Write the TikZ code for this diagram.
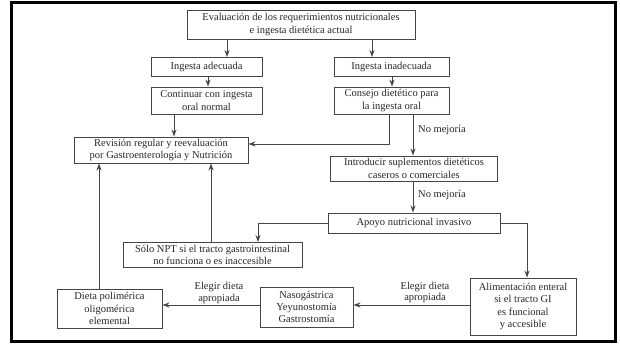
\documentclass[tikz,border=0pt]{standalone}
\usepackage{fontspec}
\setmainfont{Liberation Serif}
\usetikzlibrary{arrows.meta}
\definecolor{ink}{HTML}{262626}
\definecolor{edge}{HTML}{454545}
\begin{document}
\begin{tikzpicture}[x=1pt,y=-1pt,
  box/.style={draw=edge,line width=0.9pt,inner sep=0pt,align=center,
    text=ink,font=\fontsize{10.5}{12.3}\selectfont},
  arr/.style={draw=edge,line width=0.9pt,-{Stealth[length=7pt,width=5pt]}},
  lbl/.style={text=ink,font=\fontsize{10.5}{11.8}\selectfont,align=center,inner sep=0pt}]
\useasboundingbox (0,0) rectangle (620,345);
% outer frame
\draw[line width=3.5pt,black] (11.5,2.5) rectangle (615.5,341.5);

% boxes
\node[box,minimum width=228pt,minimum height=29pt] (eval) at (301,24.5)
  {Evaluación de los requerimientos nutricionales\\e ingesta dietética actual};
\node[box,minimum width=111pt,minimum height=19pt] (ia) at (206.5,67)
  {Ingesta adecuada};
\node[box,minimum width=115pt,minimum height=19pt] (ii) at (391.5,67)
  {Ingesta inadecuada};
\node[box,minimum width=111pt,minimum height=27pt] (co) at (206.5,100.5)
  {Continuar con ingesta\\oral normal};
\node[box,minimum width=115pt,minimum height=27pt] (cd) at (391.5,100.5)
  {Consejo dietético para\\la ingesta oral};
\node[box,minimum width=174pt,minimum height=26pt] (re) at (161,150)
  {Revisión regular y reevaluación\\por Gastroenterología y Nutrición};
\node[box,minimum width=167pt,minimum height=25pt] (in) at (414,168.5)
  {Introducir suplementos dietéticos\\caseros o comerciales};
\node[box,minimum width=172pt,minimum height=20pt] (ap) at (414,223)
  {Apoyo nutricional invasivo};
\node[box,minimum width=179pt,minimum height=25pt] (npt) at (212.5,255)
  {Sólo NPT si el tracto gastrointestinal\\no funciona o es inaccesible};
\node[box,minimum width=106pt,minimum height=57pt] (al) at (523,306.5)
  {Alimentación enteral\\si el tracto GI\\es funcional\\y accesible};
\node[box,minimum width=93pt,minimum height=40pt] (na) at (306.5,307)
  {Nasogástrica\\Yeyunostomía\\Gastrostomía};
\node[box,minimum width=105pt,minimum height=39pt] (di) at (109.5,308.5)
  {Dieta polimérica\\oligomérica\\elemental};

% connector guide coordinates
\coordinate (xa) at (227,0);
\coordinate (xb) at (372,0);
\coordinate (xc) at (208,0);
\coordinate (xd) at (392,0);
\coordinate (xe) at (174,0);
\coordinate (xf) at (413,0);
\coordinate (xg) at (211,0);
\coordinate (xh) at (99,0);
\coordinate (k1) at (389,144);
\coordinate (k2) at (258,223);
\coordinate (k3) at (527,223);
\coordinate (yr) at (0,305);

% connectors
\draw[arr] (eval.south -| xa) -- (ia.north -| xa);
\draw[arr] (eval.south -| xb) -- (ii.north -| xb);
\draw[arr] (ia.south -| xc) -- (co.north -| xc);
\draw[arr] (ii.south -| xd) -- (cd.north -| xd);
\draw[arr] (co.south -| xe) -- (re.north -| xe);
\draw[arr] (cd.south -| k1) -- (k1) -- (re.east |- k1);
\draw[arr] (cd.south -| xf) -- (in.north -| xf);
\draw[arr] (in.south -| xf) -- (ap.north -| xf);
\draw[arr] (ap.west |- k2) -- (k2) -- (npt.north -| k2);
\draw[arr] (ap.east |- k3) -- (k3) -- (al.north -| k3);
\draw[arr] (al.west |- yr) -- (na.east |- yr);
\draw[arr] (na.west |- yr) -- (di.east |- yr);
\draw[arr] (npt.north -| xg) -- (re.south -| xg);
\draw[arr] (di.north -| xh) -- (re.south -| xh);

% connector labels
\node[lbl,anchor=west] (nm1) at (418,130) {No mejoría};
\node[lbl,anchor=west] (nm2) at (418,195) {No mejoría};
\node[lbl] (ed1) at (425,292.5) {Elegir dieta\\apropiada};
\node[lbl] (ed2) at (219,293) {Elegir dieta\\apropiada};
\end{tikzpicture}
\end{document}
